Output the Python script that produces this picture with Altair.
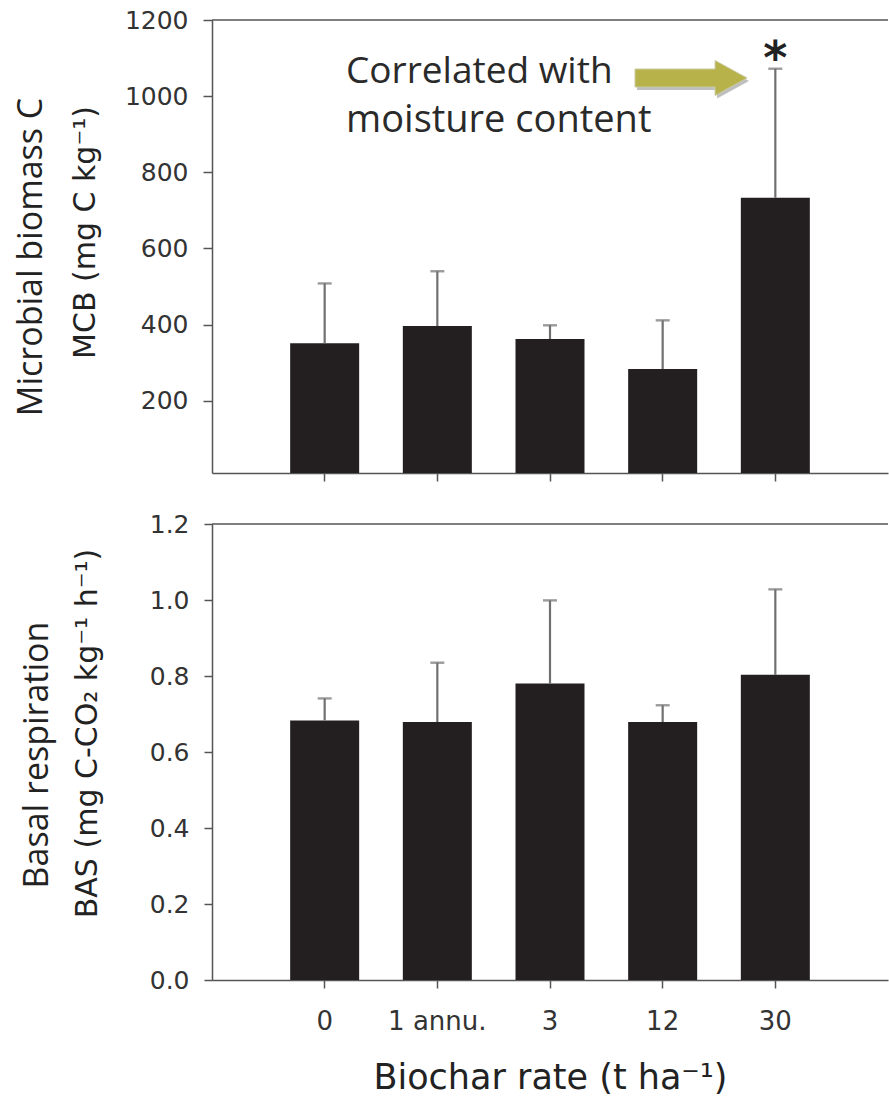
import altair as alt
import pandas as pd

# ---- data ----
categories = ["0", "1 annu.", "3", "12", "30"]
mcb_mean = [351, 396, 362, 283, 733]
mcb_upper = [508, 540, 398, 411, 1072]
mcb_star = ["", "", "", "", "*"]
bas_mean = [0.683, 0.679, 0.780, 0.679, 0.803]
bas_upper = [0.741, 0.835, 0.999, 0.723, 1.028]

mcb_ticks = [200, 400, 600, 800, 1000, 1200]
bas_ticks = [0.0, 0.2, 0.4, 0.6, 0.8, 1.0, 1.2]

top_ylabel_1 = ["Microbial biomass C"]
top_ylabel_2 = "MCB (mg C kg⁻¹)"
bot_ylabel_1 = ["Basal respiration"]
bot_ylabel_2 = "BAS (mg C-CO₂ kg⁻¹ h⁻¹)"
x_title = "Biochar rate (t ha⁻¹)"
note_line1 = ["Correlated with"]
note_line2 = ["moisture content"]

W = 676
H1 = 453
H2 = 456
LEFT = 212
BAR = "#231f20"
ERR = "#707070"
AX = "#555555"
OLIVE = "#b8b24a"

top_df = pd.DataFrame({"cat": categories, "mean": mcb_mean, "upper": mcb_upper, "star": mcb_star})
bot_df = pd.DataFrame({"cat": categories, "mean": bas_mean, "upper": bas_upper})
one = pd.DataFrame({"a": [0]})

xscale = alt.Scale(domain=categories, paddingInner=0.39, paddingOuter=0.695)

# ---------------- top panel ----------------
ytop = alt.Scale(domain=[10, 1200], clamp=True, nice=False, zero=False)
xtop_axis = alt.Axis(labels=False, title=None, tickSize=8, grid=False)
ytop_axis = alt.Axis(values=mcb_ticks, format="d", tickSize=9, labelPadding=15, labelFontSize=25,
                     grid=False,
                     title=top_ylabel_2, titleX=-127, titleY=212, titleAngle=270,
                     titleAlign="center", titleBaseline="middle", titleFont="DejaVu Sans",
                     titleFontSize=30, titleFontWeight="normal", titleColor="#222222")

tbase = alt.Chart(top_df)
t_bars = tbase.mark_bar(color=BAR, size=69).encode(
    x=alt.X("cat:N", scale=xscale, axis=xtop_axis, sort=categories),
    y=alt.Y("mean:Q", scale=ytop, axis=ytop_axis),
)
t_err = tbase.mark_rule(color=ERR, strokeWidth=2.2).encode(
    x=alt.X("cat:N", scale=xscale, sort=categories), y="mean:Q", y2="upper:Q")
t_cap = tbase.mark_tick(color=ERR, thickness=2.4, size=14).encode(
    x=alt.X("cat:N", scale=xscale, sort=categories), y="upper:Q")
t_star = tbase.mark_text(font="DejaVu Sans", fontSize=46, fontWeight="bold", color="#222222",
                         baseline="alphabetic", dy=5).encode(
    x=alt.X("cat:N", scale=xscale, sort=categories), y="upper:Q", text="star:N")
t_border = alt.Chart(one).mark_rule(color=AX, strokeWidth=1.5).encode(
    x=alt.value(0), x2=alt.value(W), y=alt.value(0))
t_anchor = alt.Chart(one).mark_rule(opacity=0).encode(
    x=alt.value(-LEFT), x2=alt.value(-LEFT + 1), y=alt.value(-20), y2=alt.value(-19))
t_lab1 = alt.Chart(pd.DataFrame({"t": top_ylabel_1})).mark_text(
    font="Open Sans", fontSize=34, angle=270, align="center", baseline="middle", color="#222222").encode(
    x=alt.value(-180), y=alt.value(237), text="t:N")
note1 = alt.Chart(pd.DataFrame({"t": note_line1})).mark_text(
    font="Open Sans", fontSize=37, align="left", baseline="alphabetic", color="#2a2a2a").encode(
    x=alt.value(134), y=alt.value(63), text="t:N")
note2 = alt.Chart(pd.DataFrame({"t": note_line2})).mark_text(
    font="Open Sans", fontSize=38, align="left", baseline="alphabetic", color="#2a2a2a").encode(
    x=alt.value(134), y=alt.value(112), text="t:N")
arrow_path = "M -1 -0.16 L 0.43 -0.16 L 0.43 -0.3125 L 1 0 L 0.43 0.3125 L 0.43 0.16 L -1 0.16 Z"
arrow_shadow = alt.Chart(one).mark_point(
    shape=arrow_path, size=12544, filled=True, color="#8a8a8a", opacity=0.55).encode(
    x=alt.value(481), y=alt.value(61))
arrow = alt.Chart(one).mark_point(
    shape=arrow_path, size=12544, filled=True, color=OLIVE, opacity=1,
    stroke="#c9c9a0", strokeWidth=1).encode(
    x=alt.value(479), y=alt.value(58))

top = alt.layer(t_anchor, t_border, t_bars, t_err, t_cap, t_star, t_lab1, note1, note2,
                arrow_shadow, arrow).properties(width=W, height=H1)

# ---------------- bottom panel ----------------
ybot = alt.Scale(domain=[0, 1.2], nice=False)
xbot_axis = alt.Axis(labelFontSize=26, labelPadding=20, tickSize=8, labelAngle=0, grid=False,
                     title=x_title, titleFont="DejaVu Sans", titleFontSize=35,
                     titleFontWeight="normal", titleColor="#222222",
                     titleY=97, titleBaseline="middle")
ybot_axis = alt.Axis(values=bas_ticks, format=".1f", tickSize=8, labelPadding=15, labelFontSize=25,
                     grid=False,
                     title=bot_ylabel_2, titleX=-125, titleY=209, titleAngle=270,
                     titleAlign="center", titleBaseline="middle", titleFont="DejaVu Sans",
                     titleFontSize=30, titleFontWeight="normal", titleColor="#222222")

bbase = alt.Chart(bot_df)
b_bars = bbase.mark_bar(color=BAR, size=69).encode(
    x=alt.X("cat:N", scale=xscale, axis=xbot_axis, sort=categories),
    y=alt.Y("mean:Q", scale=ybot, axis=ybot_axis),
)
b_err = bbase.mark_rule(color=ERR, strokeWidth=2.2).encode(
    x=alt.X("cat:N", scale=xscale, sort=categories), y="mean:Q", y2="upper:Q")
b_cap = bbase.mark_tick(color=ERR, thickness=2.4, size=14).encode(
    x=alt.X("cat:N", scale=xscale, sort=categories), y="upper:Q")
b_border = alt.Chart(one).mark_rule(color=AX, strokeWidth=1.5).encode(
    x=alt.value(0), x2=alt.value(W), y=alt.value(0))
b_anchor = alt.Chart(one).mark_rule(opacity=0).encode(
    x=alt.value(-LEFT), x2=alt.value(-LEFT + 1), y=alt.value(H2 + 124), y2=alt.value(H2 + 125))
b_lab1 = alt.Chart(pd.DataFrame({"t": bot_ylabel_1})).mark_text(
    font="Open Sans", fontSize=34, angle=270, align="center", baseline="middle", color="#222222").encode(
    x=alt.value(-174), y=alt.value(231), text="t:N")

bottom = alt.layer(b_anchor, b_border, b_bars, b_err, b_cap, b_lab1).properties(width=W, height=H2)

chart = alt.vconcat(top, bottom, spacing=51, bounds="flush").properties(
    padding=0, background="white",
).configure_view(strokeWidth=0).configure_axis(
    domainColor=AX, domainWidth=1.5, tickColor=AX, tickWidth=1.5,
    labelFont="DejaVu Sans", labelColor="#333333", grid=False,
)

chart.save("out.html", embed_options={"renderer": "svg", "actions": False})
